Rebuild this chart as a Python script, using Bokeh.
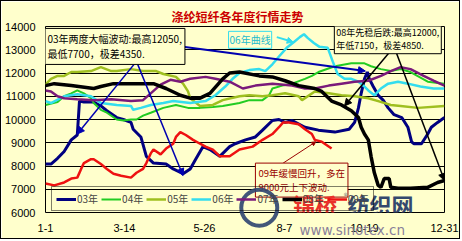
from bokeh.plotting import figure
from bokeh.models import Legend, LegendItem, Label, Arrow, NormalHead, FixedTicker, Range1d
from bokeh.embed import file_html
from bokeh.resources import INLINE

# ---------------- data ----------------
day_ticks = [0, 72, 145, 218, 291, 364]
day_tick_labels = ["1-1", "3-14", "5-26", "8-7", "10-19", "12-31"]
y_ticks = [6000, 7000, 8000, 9000, 10000, 11000, 12000, 13000, 14000]

d03 = [0, 5, 11, 17, 23.5, 29, 31, 35, 44, 50.5, 56, 65, 71, 78, 80, 87, 89, 92, 98.5, 110, 116.5, 125.5,
       132, 137, 143.6, 150, 159, 168, 173, 182.5, 191.5, 198, 207, 213, 218.6, 225, 236.7, 249, 264, 277,
       282, 285.5, 288, 291, 293.6, 295.4, 299, 303.5, 308, 312.6, 318, 325, 330.6, 334, 336, 343, 348.7,
       352, 357.7, 364]
v03 = [8083, 8083, 8333, 8625, 9125, 9333, 10792, 10750, 10750, 10583, 10375, 10083, 10000, 9875, 9583,
       9250, 8917, 8417, 8125, 8083, 7875, 7667, 7875, 8292, 8833, 8708, 8417, 8833, 8958, 9125, 9250,
       9542, 9958, 10000, 9875, 9958, 9667, 9542, 9458, 9583, 9875, 10500, 11125, 11750, 12042, 11750,
       11417, 11042, 10833, 10500, 10208, 10083, 9667, 9042, 8958, 8958, 9375, 9667, 9875, 10083]

d04 = [0, 11, 17, 23.5, 29, 35, 41.5, 44, 50.5, 56, 65, 71, 78, 83, 89, 96, 107.5, 119, 130, 141, 152.7,
       161.7, 177, 186, 198, 204, 207, 216, 225, 236.7, 243, 249, 264, 279, 291, 297, 306, 315, 324, 333,
       348.7, 364]
v04 = [10625, 10750, 11000, 11125, 11250, 11125, 10917, 10708, 10417, 10292, 10000, 9958, 10000, 10000,
       10167, 10292, 10500, 10625, 10500, 10500, 10542, 10583, 10708, 10833, 10833, 11042, 11333, 11458,
       11542, 11750, 11875, 12042, 12292, 12417, 12417, 12292, 12167, 12083, 12167, 12042, 11625, 11542]

d05 = [0, 5, 11, 17, 23.5, 29, 41.5, 50.5, 60, 65, 78, 89, 101, 107.5, 119, 125.5, 130, 132, 141, 152.7,
       161.7, 177, 186, 198, 207, 218.6, 231, 234, 245.7, 258.4, 270, 282, 294.5, 303.5, 315, 324, 339.7, 364]
v05 = [11500, 11750, 11875, 11875, 12042, 12042, 12083, 12250, 12083, 12083, 12167, 12083, 12083, 11958,
       11833, 11542, 11208, 10917, 10583, 10625, 10833, 11000, 11042, 11000, 11042, 11125, 11000, 10833,
       11208, 11125, 11042, 11000, 10917, 10792, 10625, 10583, 10500, 10583]

d06 = [0, 5, 17, 29, 41.5, 50.5, 65, 78, 80, 87, 96, 107.5, 116.5, 132, 146, 155, 164, 170.7, 177, 186, 195,
       200.5, 207, 213, 220, 226.7, 232, 235.8, 239.4, 244.8, 250, 257.5, 262, 266.5, 272.8, 279, 285.5,
       291, 294.5, 300, 306, 312.6, 321.6, 330.6, 342, 354, 364]
v06 = [10792, 10708, 11000, 11083, 11000, 10708, 10625, 10583, 10417, 10500, 10625, 10708, 10792, 10708,
       10792, 11042, 11417, 11750, 12000, 12125, 12167, 12083, 12375, 12708, 13083, 13333, 13542, 13667,
       13500, 13292, 13125, 13083, 12500, 11958, 11750, 11750, 11625, 11417, 11250, 11042, 11333, 11542,
       11625, 11542, 11417, 11333, 11333]

d07 = [0, 5, 11, 17, 29, 44, 60, 78, 89, 96, 105, 114, 123, 132, 146, 155, 168, 180, 191.5, 207, 225,
       236.7, 245.7, 258.4, 270, 282, 294.5, 306, 315, 324, 333, 345, 354, 364]
v07 = [11250, 11208, 11000, 10917, 10875, 10833, 10875, 10792, 10833, 11125, 11500, 11708, 11625, 11750,
       11833, 11750, 11625, 11333, 11458, 11542, 11458, 11333, 11333, 11458, 11542, 11625, 11667, 11875,
       12083, 12250, 12167, 11875, 11667, 11458]

d08 = [0, 8, 23.5, 44, 50.5, 62, 98.5, 110, 123, 132, 141, 150, 161.7, 168, 177, 195, 207, 218.6, 231,
       245.7, 252, 261, 270, 279, 285.5, 288, 291, 294.5, 297, 300, 303.5, 306, 309, 313.5, 315, 321.6,
       333, 348.7, 357.7, 364]
v08 = [11458, 11542, 11458, 11333, 11417, 11542, 11542, 11333, 11042, 10917, 10917, 11125, 11750, 12000,
       12042, 11875, 11833, 11667, 11458, 11333, 11208, 10792, 10625, 10375, 10083, 9667, 9375, 9125, 8417,
       7708, 7167, 7083, 7458, 7458, 7083, 7042, 7042, 7083, 7292, 7375]

d09 = [0, 8, 17, 23.5, 29, 32.5, 35, 41.5, 44, 50.5, 56, 62, 69, 78, 83, 89, 92, 96, 98.5, 105, 110,
       116.5, 119, 123, 128, 134.6, 141, 146, 152.7, 159, 168, 177, 189, 198, 207, 213, 216.8, 222, 231,
       236.7, 243, 245.7, 252, 261]
v09 = [7250, 7167, 7292, 7458, 7500, 7875, 8125, 8292, 8292, 8083, 7875, 7667, 7583, 7500, 7708, 7875,
       8125, 8542, 8708, 8500, 8750, 8958, 9250, 9458, 9333, 9125, 8958, 8833, 8708, 8417, 8417, 8708,
       8833, 9125, 9375, 9667, 9875, 9875, 9792, 9583, 9375, 9125, 9042, 8750]

series_names = ["03年", "04年", "05年", "06年", "07年", "08年", "09年"]
series_days = [d03, d04, d05, d06, d07, d08, d09]
series_vals = [v03, v04, v05, v06, v07, v08, v09]

# ---------------- styles ----------------
BG = "#FFFFCC"
CJK = "Noto Sans CJK SC"
colors = ["#000080", "#22CC22", "#9FBF1F", "#33DDEE", "#7A1A7A", "#000000", "#EE1111"]
widths = [3, 2, 2.5, 2.5, 2.5, 3.5, 2.5]

p = figure(width=460, height=239, output_backend="svg", toolbar_location=None,
           x_range=Range1d(0, 364), y_range=Range1d(6000, 14000),
           min_border_left=40, min_border_right=17, min_border_top=25, min_border_bottom=21)
p.styles = {"border": "1px solid #000000"}
p.background_fill_color = BG
p.border_fill_color = BG
p.outline_line_color = "black"
p.outline_line_width = 1

p.title.text = "涤纶短纤各年度行情走势"
p.title.align = "left"
p.title.offset = 126
p.title.text_font = CJK
p.title.text_font_size = "12px"
p.title.text_font_style = "bold"
p.title.text_color = "#CC0000"
p.title.standoff = 3

p.xgrid.grid_line_color = None
p.ygrid.grid_line_color = "black"
p.ygrid.grid_line_width = 1

p.yaxis.ticker = FixedTicker(ticks=y_ticks)
p.xaxis.ticker = FixedTicker(ticks=day_ticks)
p.xaxis.major_label_overrides = {t: l for t, l in zip(day_ticks, day_tick_labels)}
for ax in (p.xaxis, p.yaxis):
    ax.axis_line_color = None
    ax.major_tick_line_color = None
    ax.minor_tick_line_color = None
    ax.major_label_text_font = "Liberation Sans"
    ax.major_label_text_font_size = "11px"
    ax.major_label_text_color = "black"
p.yaxis.major_label_standoff = 4
p.xaxis.major_label_standoff = 5

# watermark web address, drawn as the x axis label so it can sit below the frame
p.xaxis.axis_label = "\u00a0" * 50 + "www.sinotex.cn"
p.xaxis.axis_label_align = "center"
p.xaxis.axis_label_standoff = -13
p.xaxis.axis_label_text_font = "DejaVu Sans"
p.xaxis.axis_label_text_font_size = "13.5px"
p.xaxis.axis_label_text_font_style = "normal"
p.xaxis.axis_label_text_color = "#8A7F9A"

items = []
for name, d, v, c, w in zip(series_names, series_days, series_vals, colors, widths):
    r = p.line(d, v, line_color=c, line_width=w)
    items.append(LegendItem(label=name, renderers=[r]))

# watermark logo & name (under the transparent legend)
p.scatter([195], [6208], size=36, fill_color=None, line_color="#2E4470", line_width=4, alpha=0.9,
          level="overlay")
p.add_layout(Label(x=225.8, y=6375, text="锦桥", anchor="center_left", text_font=CJK, level="overlay",
                   text_font_size="22px", text_font_style="bold", text_color="#E8322A"))
p.add_layout(Label(x=272, y=6750, text="®", anchor="center_left", text_font=CJK, level="overlay",
                   text_font_size="8px", text_color="#777777"))
p.add_layout(Label(x=275.5, y=6375, text="纺织网", anchor="center_left", text_font=CJK, level="overlay",
                   text_font_size="22px", text_font_style="bold", text_color="#34486E"))

legend = Legend(items=items, orientation="horizontal", location=(6, 1),
                label_text_font=CJK, label_text_font_size="10px",
                glyph_width=20, glyph_height=12, label_height=12, label_width=10, label_standoff=1,
                spacing=3, padding=4, margin=0,
                border_line_color="black", border_line_width=1,
                background_fill_color=BG, background_fill_alpha=0)
p.add_layout(legend, "center")

# ---------------- annotations ----------------
def box(x, y, text, color, border, size="10px", lh=1.0, pad=3):
    return Label(x=x, y=y, text=text, anchor="top_left", text_font=CJK, text_font_size=size,
                 text_color=color, text_line_height=lh, padding=pad,
                 background_fill_color=BG, background_fill_alpha=1,
                 border_line_color=border, border_line_width=1)

def arrow(x0, y0, x1, y1, color, w, hs):
    return Arrow(x_start=x0, y_start=y0, x_end=x1, y_end=y1, line_color=color, line_width=w,
                 end=NormalHead(size=hs, fill_color=color, line_color=color))

# arrows (03)
p.add_layout(arrow(83, 12500, 29, 9375, "#0000B0", 1.5, 7))
p.add_layout(arrow(83, 12500, 125.5, 7583, "#0000B0", 1.5, 7))
p.add_layout(arrow(125.5, 13125, 291.8, 12083, "#0000B0", 2, 7))
# arrows (08)
p.add_layout(arrow(318, 13125, 272.8, 10583, "black", 1.5, 7))
p.add_layout(arrow(318, 13125, 364, 7375, "black", 1.5, 7))
# arrow (06)
p.add_layout(arrow(211, 13542, 226, 13330, "#33DDEE", 2, 6))
# arrow (09)
p.add_layout(arrow(216.8, 8125, 246.6, 9042, "#990000", 1, 4))

p.add_layout(box(-0.9, 13917, "03年两度大幅波动:最高12050,\n最低7700，极差4350.", "black", "black"))
p.add_layout(box(263.5, 14120, "08年先稳后跌:最高12000,\n年低7150，极差4850.", "black", "black",
                 size="9px", pad=2))
p.add_layout(box(191.5, 8125, "09年缓慢回升，多在\n9000元上下波动.", "#990000", "#990000",
                 size="9.5px", lh=1.0, pad=3))
p.add_layout(Label(x=167, y=13792, text="06年曲线", anchor="top_left", text_font=CJK, text_font_size="10px",
                   text_color="#22BBCC", padding=1, background_fill_color=BG, background_fill_alpha=1,
                   border_line_color="#33DDEE", border_line_width=1))

open("out.html", "w").write(file_html(p, INLINE))
